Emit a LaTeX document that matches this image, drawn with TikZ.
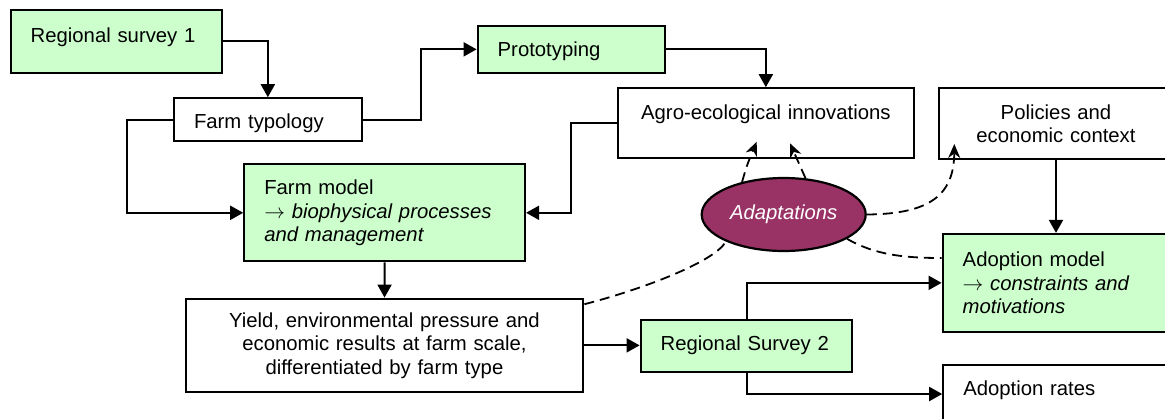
\documentclass[tikz,border=0pt]{standalone}
\usepackage{fontspec}
\setmainfont{Liberation Sans}
\usepackage{tikz}
\usetikzlibrary{positioning,calc,arrows.meta,shapes.geometric}
\definecolor{boxgreen}{HTML}{CCFFCC}
\definecolor{plum}{HTML}{993366}

\begin{document}
\begin{tikzpicture}[x=1pt, y=-1pt,
  box/.style={draw=black, line width=2.2pt, shape=rectangle, inner xsep=20pt, inner ysep=0pt, align=left, font=\fontsize{20.3}{23.5}\selectfont},
  greenbox/.style={box, fill=boxgreen},
  link/.style={line width=2pt, -{Triangle[length=13pt, width=14pt]}},
  dashline/.style={line width=1.8pt, dash pattern=on 10pt off 6pt},
  dashlink/.style={dashline, -{Stealth[length=14pt, width=12pt]}}]

\useasboundingbox (0, 0) rectangle (1165, 418);

\path (116.2, 41.35) node[greenbox, minimum width=211pt, minimum height=62.7pt, text width=171pt, text height=15pt, text depth=13.7pt] (survey1) {Regional survey 1};
\path (267.85, 119.65) node[box, minimum width=187.7pt, minimum height=42.7pt, text width=147.7pt, text height=20pt, text depth=3.3pt] (typology) {Farm typology};
\path (571.5, 49.35) node[greenbox, minimum width=187.6pt, minimum height=46.7pt, text width=147.6pt, text height=20pt, text depth=6.1pt] (proto) {Prototyping};
\path (765.85, 123) node[box, align=center, minimum width=295.7pt, minimum height=69.4pt, text width=255.7pt, text height=15pt, text depth=22.4pt] (innov) {Agro-ecological innovations};
\path (1056, 123.5) node[box, align=center, minimum width=233.4pt, minimum height=70.4pt, text width=193.4pt] (policy) {Policies and\\economic context};

\path (384.65, 212.8) node[greenbox, minimum width=280.7pt, minimum height=97pt, text width=240.7pt] (farmmodel) {Farm model\\$\rightarrow$ \textit{biophysical processes}\\\textit{and management}};
\path (783.7, 214.5) node[draw=black, line width=2.2pt, fill=plum, shape=ellipse, minimum width=164pt, minimum height=73pt, inner sep=0pt, text=white, font=\fontsize{20.3}{23.5}\selectfont\itshape] (adaptations) {Adaptations};
\path (1057.35, 282.85) node[greenbox, minimum width=229.3pt, minimum height=97.7pt, text width=189.3pt] (adoptmodel) {Adoption model\\$\rightarrow$ \textit{constraints and}\\\textit{motivations}};

\path (384.5, 345.35) node[box, align=center, minimum width=397.6pt, minimum height=93.3pt, text width=357.6pt] (results) {Yield, environmental pressure and\\economic results at farm scale,\\differentiated by farm type};
\path (746.5, 346.15) node[greenbox, minimum width=211.6pt, minimum height=51.7pt, text width=171.6pt, text height=15pt, text depth=7.3pt] (survey2) {Regional Survey 2};
\path (1057.65, 394) node[box, minimum width=228.7pt, minimum height=57.4pt, text width=188.7pt, text height=15pt, text depth=13pt] (rates) {Adoption rates};

\coordinate (innovtip1) at (756.7, 141.7);
\coordinate (innovtip2) at (790, 143.3);
\coordinate (policytip) at (954.3, 144);

\draw[link] (survey1.east) -| (typology.north);
\draw[link] (typology.east) -- ++(58.3, 0) |- (proto.west);
\draw[link] (typology.west) -- ++(-46.3, 0) |- (farmmodel.west);
\draw[link] (proto.east) -| (innov.north);
\draw[link] (innov.west) -- ++(-46.3, 0) |- (farmmodel.east);
\draw[link] (farmmodel.south) -- (results.north);
\draw[link] (results.east) -- (results.east -| survey2.west);
\draw[link] (survey2.north) |- (adoptmodel.west);
\draw[link] (survey2.south) |- (rates.west);
\draw[link] (policy.south) -- (policy.south |- adoptmodel.north);

\draw[dashlink] (adaptations.142) .. controls (747, 165) .. (innovtip1);
\draw[dashlink] (adaptations.59) -- (innovtip2);
\draw[dashlink] (adaptations.0) .. controls (930, 214) and (954, 195) .. (policytip);
\draw[dashline] (adaptations.-21) .. controls (875, 255) and (905, 258) .. ([yshift=24.85pt]adoptmodel.west);
\draw[dashline] ([yshift=-6.6pt]results.north east) .. controls (640, 290) and (715, 262) .. (adaptations.205);
\end{tikzpicture}
\end{document}
